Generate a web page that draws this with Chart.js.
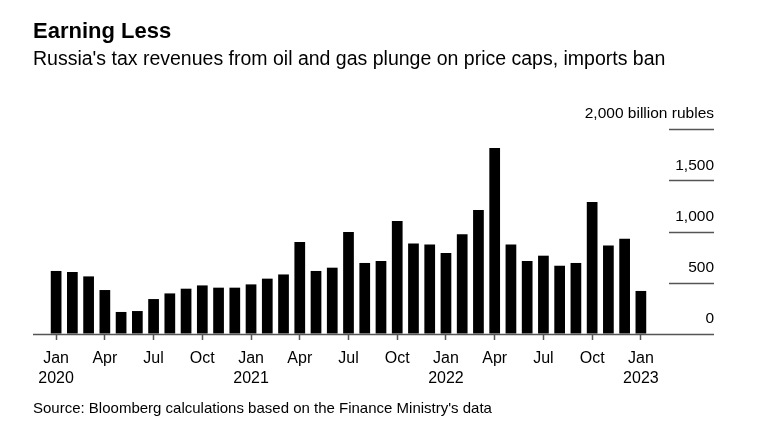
<!DOCTYPE html>
<html>
<head>
<meta charset="utf-8">
<script src="https://cdn.jsdelivr.net/npm/chart.js@4"></script>
<style>
  html, body { margin: 0; padding: 0; background: #fff; }
  #wrap { position: relative; width: 764px; height: 435px; overflow: hidden; font-family: "Liberation Sans", Arial, sans-serif; color: #000; }
  #chart { position: absolute; left: 0; top: 0; }
  .txt { position: absolute; left: 33px; white-space: nowrap; }
  #title { top: 20px; font-size: 22px; line-height: 22px; font-weight: bold; }
  #subtitle { top: 48.5px; font-size: 19.5px; line-height: 19.5px; }
  #source { top: 399.5px; font-size: 15px; line-height: 15px; }
</style>
</head>
<body>
<div id="wrap">
  <canvas id="chart" width="764" height="435"></canvas>
  <div class="txt" id="title">Earning Less</div>
  <div class="txt" id="subtitle">Russia's tax revenues from oil and gas plunge on price caps, imports ban</div>
  <div class="txt" id="source">Source: Bloomberg calculations based on the Finance Ministry's data</div>
</div>
<script>
// monthly oil & gas tax revenues, billion rubles
const months = [
  'Jan 2020','Feb 2020','Mar 2020','Apr 2020','May 2020','Jun 2020','Jul 2020','Aug 2020','Sep 2020','Oct 2020','Nov 2020','Dec 2020',
  'Jan 2021','Feb 2021','Mar 2021','Apr 2021','May 2021','Jun 2021','Jul 2021','Aug 2021','Sep 2021','Oct 2021','Nov 2021','Dec 2021',
  'Jan 2022','Feb 2022','Mar 2022','Apr 2022','May 2022','Jun 2022','Jul 2022','Aug 2022','Sep 2022','Oct 2022','Nov 2022','Dec 2022',
  'Jan 2023'
];
const revenue = [
  615, 605, 562, 429, 215, 224, 341, 396, 442, 474, 452, 452,
  484, 540, 581, 898, 615, 647, 995, 693, 712, 1102, 884, 874,
  790, 972, 1210, 1815, 874, 712, 764, 666, 693, 1288, 864, 930,
  420
];
// one label every 3 months
const tickLabels = [
  ['Jan','2020'],'Apr','Jul','Oct',
  ['Jan','2021'],'Apr','Jul','Oct',
  ['Jan','2022'],'Apr','Jul','Oct',
  ['Jan','2023']
];
const yTicks = [0, 500, 1000, 1500, 2000];
const yUnit = 'billion rubles';

const axisColor = '#555';

// baseline across the full width + short gridlines under the y labels
const bbgLines = {
  id: 'bbgLines',
  afterDatasetsDraw(chart) {
    const ctx = chart.ctx, y = chart.scales.y;
    ctx.save();
    ctx.strokeStyle = axisColor;
    ctx.lineWidth = 1.5;
    yTicks.forEach(v => {
      const py = Math.round(y.getPixelForValue(v)) + 0.5;
      ctx.beginPath();
      if (v === 0) { ctx.moveTo(33, py); } else { ctx.moveTo(669, py); }
      ctx.lineTo(714, py);
      ctx.stroke();
    });
    ctx.restore();
  }
};

new Chart(document.getElementById('chart'), {
  type: 'bar',
  data: {
    labels: months,
    datasets: [{
      data: revenue,
      backgroundColor: '#000',
      borderWidth: 0,
      categoryPercentage: 1,
      barPercentage: 0.66
    }]
  },
  options: {
    responsive: false,
    animation: false,
    layout: { padding: { left: 48, right: 50, top: 129, bottom: 1 } },
    plugins: { legend: { display: false }, tooltip: { enabled: false } },
    scales: {
      x: {
        offset: true,
        afterFit: s => { s.height = 100; },
        border: { display: false },
        grid: {
          offset: false,
          drawOnChartArea: false,
          tickLength: 6,
          tickWidth: 1.5,
          tickColor: c => (c.index % 3 === 0 ? axisColor : 'rgba(0,0,0,0)')
        },
        ticks: {
          autoSkip: false,
          maxRotation: 0,
          padding: 9,
          color: '#000',
          font: { family: 'Liberation Sans', size: 16, lineHeight: 1.25 },
          callback: (v, i) => (i % 3 === 0 ? tickLabels[i / 3] : '')
        }
      },
      y: {
        position: 'right',
        min: 0,
        max: 2000,
        afterFit: s => { s.width = 65; },
        afterBuildTicks: s => { s.ticks = yTicks.map(v => ({ value: v })); },
        border: { display: false },
        grid: { drawOnChartArea: false, drawTicks: false },
        ticks: {
          mirror: true,
          crossAlign: 'near',
          labelOffset: -15,
          padding: 65,
          color: '#000',
          font: { family: 'Liberation Sans', size: 15.5 },
          callback: v => (v === 2000 ? v.toLocaleString('en-US') + ' ' + yUnit : v.toLocaleString('en-US'))
        }
      }
    }
  },
  plugins: [bbgLines]
});
</script>
</body>
</html>
